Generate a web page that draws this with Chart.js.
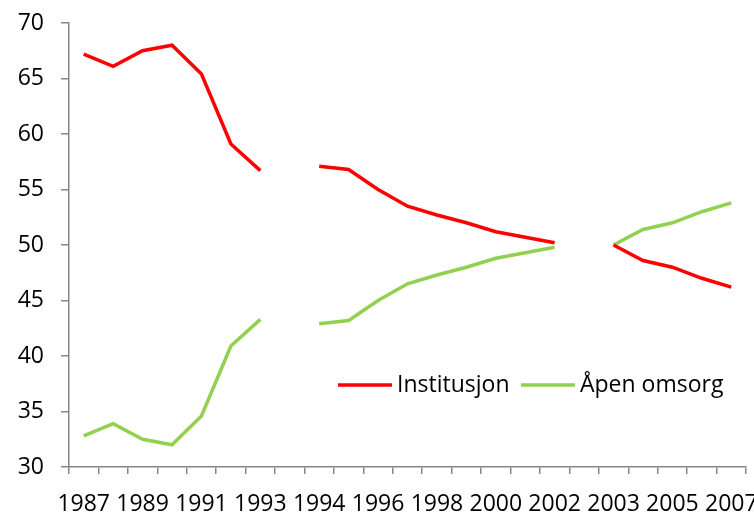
<!DOCTYPE html>
<html>
<head>
<meta charset="utf-8">
<script src="https://cdn.jsdelivr.net/npm/chart.js@4.4.1/dist/chart.umd.min.js"></script>
<style>
  html, body { margin: 0; padding: 0; background: #fff; }
  #wrap { width: 754px; height: 514px; }
</style>
</head>
<body>
<div id="wrap"><canvas id="chart" width="754" height="514"></canvas></div>
<script>
// Categories: blank entries make the gaps between the three periods
const years = [
  "1987", "1988", "1989", "1990", "1991", "1992", "1993", "",
  "1994", "1995", "1996", "1997", "1998", "1999", "2000", "2001", "2002", "",
  "2003", "2004", "2005", "2006", "2007"
];

const institusjon = [
  67.2, 66.1, 67.5, 68.0, 65.4, 59.1, 56.7, null,
  57.1, 56.8, 55.0, 53.5, 52.7, 52.0, 51.2, 50.7, 50.2, null,
  50.0, 48.6, 48.0, 47.0, 46.2
];

const apenOmsorg = [
  32.8, 33.9, 32.5, 32.0, 34.6, 40.9, 43.3, null,
  42.9, 43.2, 45.0, 46.5, 47.3, 48.0, 48.8, 49.3, 49.8, null,
  50.0, 51.4, 52.0, 53.0, 53.8
];

const yTicks = [30, 35, 40, 45, 50, 55, 60, 65, 70];

const FONT = "'Open Sans', 'Noto Sans', sans-serif";
const AXIS_GRAY = "#868686";

// legend drawn inside the plot, like the original
const innerLegend = {
  id: "innerLegend",
  afterDraw(chart) {
    const ctx = chart.ctx;
    const y = 385;
    const items = [
      { x: 338, ds: chart.data.datasets[0] },
      { x: 521, ds: chart.data.datasets[1] }
    ];
    ctx.save();
    ctx.font = "23px " + FONT;
    ctx.textBaseline = "middle";
    ctx.fillStyle = "#000";
    items.forEach(item => {
      ctx.strokeStyle = item.ds.borderColor;
      ctx.lineWidth = 3.5;
      ctx.beginPath();
      ctx.moveTo(item.x, y);
      ctx.lineTo(item.x + 54, y);
      ctx.stroke();
      ctx.fillText(item.ds.label, item.x + 59, y);
    });
    ctx.restore();
  }
};

new Chart(document.getElementById("chart"), {
  type: "line",
  data: {
    labels: years,
    datasets: [
      {
        label: "Institusjon",
        data: institusjon,
        borderColor: "#ff0000",
        borderWidth: 3.5,
        pointRadius: 0,
        tension: 0,
        spanGaps: false
      },
      {
        label: "Åpen omsorg",
        data: apenOmsorg,
        borderColor: "#92d050",
        borderWidth: 3.5,
        pointRadius: 0,
        tension: 0,
        spanGaps: false
      }
    ]
  },
  options: {
    responsive: false,
    animation: false,
    layout: { padding: { top: 23, left: 0, right: 8, bottom: 0 } },
    plugins: {
      legend: { display: false },
      tooltip: { enabled: false }
    },
    scales: {
      x: {
        offset: true,
        grid: {
          offset: true,
          drawOnChartArea: false,
          drawTicks: true,
          tickLength: 7,
          color: AXIS_GRAY,
          lineWidth: 1.5
        },
        border: { display: true, color: AXIS_GRAY, width: 1.5 },
        ticks: {
          autoSkip: false,
          maxRotation: 0,
          padding: 17,
          color: "#000",
          font: { family: FONT, size: 23 },
          callback: (value, index) => index % 2 === 0 ? years[index] : ""
        },
        afterFit: scale => {
          scale.height = 47;
          scale.paddingLeft = 0;
          scale.paddingRight = 0;
        }
      },
      y: {
        min: 30,
        max: 70,
        afterBuildTicks: scale => {
          scale.ticks = yTicks.map(v => ({ value: v }));
        },
        grid: {
          drawOnChartArea: false,
          drawTicks: true,
          tickLength: 8,
          color: AXIS_GRAY,
          lineWidth: 1.5
        },
        border: { display: true, color: AXIS_GRAY, width: 1.5 },
        ticks: {
          padding: 17,
          color: "#000",
          font: { family: FONT, size: 23 }
        },
        afterFit: scale => {
          scale.width = 69;
          scale.paddingTop = 0;
          scale.paddingBottom = 0;
        }
      }
    }
  },
  plugins: [innerLegend]
});
</script>
</body>
</html>
